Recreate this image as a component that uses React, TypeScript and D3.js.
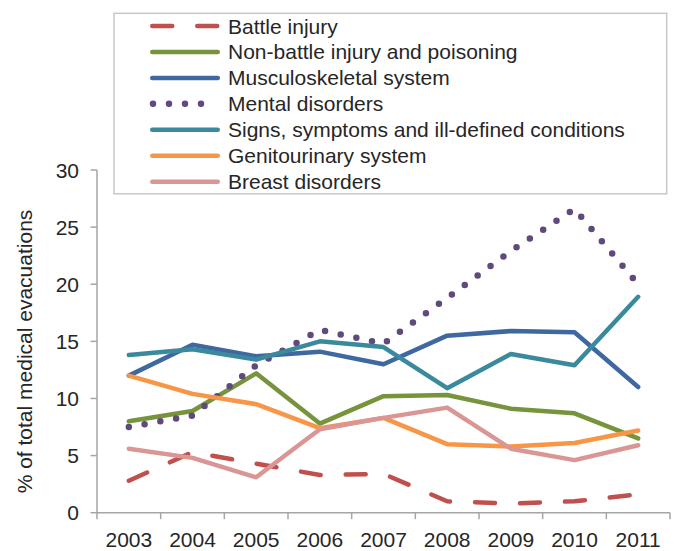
import React from "react";
import * as d3 from "d3";

const years = ["2003", "2004", "2005", "2006", "2007", "2008", "2009", "2010", "2011"];
const yTicks = [0, 5, 10, 15, 20, 25, 30];

const battleInjury = [2.8, 5.3, 4.3, 3.3, 3.4, 1.0, 0.8, 1.0, 1.6];
const nonBattle = [8.0, 8.9, 12.2, 7.8, 10.2, 10.3, 9.1, 8.7, 6.5];
const musculoskeletal = [12.0, 14.7, 13.7, 14.1, 13.0, 15.5, 15.9, 15.8, 11.0];
const mental = [7.5, 8.5, 12.9, 16.0, 14.8, 18.8, 22.9, 26.6, 20.0];
const signs = [13.8, 14.3, 13.4, 15.0, 14.5, 10.9, 13.9, 12.9, 18.9];
const genitourinary = [12.0, 10.4, 9.5, 7.4, 8.3, 6.0, 5.8, 6.1, 7.2];
const breast = [5.6, 4.8, 3.1, 7.3, 8.3, 9.2, 5.6, 4.6, 5.9];

const seriesNames = [
  "Battle injury",
  "Non-battle injury and poisoning",
  "Musculoskeletal system",
  "Mental disorders",
  "Signs, symptoms and ill-defined conditions",
  "Genitourinary system",
  "Breast disorders",
];
const seriesValues = [battleInjury, nonBattle, musculoskeletal, mental, signs, genitourinary, breast];
const seriesColors = ["#C0504D", "#77933C", "#3F67A0", "#604A7B", "#3A899C", "#F79646", "#D99694"];

const FONT = "'Liberation Sans', Arial, sans-serif";

export default function App() {
  const width = 680;
  const height = 551;
  const left = 97;
  const right = 670;
  const top = 170;
  const bottom = 512.7;

  const x = d3.scaleBand<string>().domain(years).range([left, right]).padding(0);
  const y = d3.scaleLinear().domain([0, 30]).range([bottom, top]);
  const cx = (yr: string) => (x(yr) as number) + x.bandwidth() / 2;

  const line = d3
    .line<number>()
    .x((_, i) => cx(years[i]))
    .y((v) => y(v));

  const styleFor = (i: number) => {
    if (i === 0) return { strokeWidth: 4.5, dash: "20,25", cap: "round" as const };
    if (i === 3) return { strokeWidth: 6.5, dash: "0,16", cap: "round" as const };
    return { strokeWidth: 4.5, dash: undefined, cap: "round" as const };
  };

  const boundaries = years.map((yr) => x(yr) as number).concat([right]);

  const legendX1 = 152.25;
  const legendX2 = 217.75;
  const legendTop = 26;
  const legendStep = 25.95;

  return (
    <svg
      width={width}
      height={height}
      style={{ position: "absolute", left: 0, top: 0, background: "#fff" }}
      fontFamily={FONT}
    >
      <rect x={0} y={0} width={width} height={height} fill="#fff" />
      {/* axes */}
      <line x1={left} x2={left} y1={top} y2={bottom} stroke="#A6A6A6" strokeWidth={1.5} />
      <line x1={left} x2={right} y1={bottom} y2={bottom} stroke="#A6A6A6" strokeWidth={1.5} />
      {yTicks.map((t) => (
        <g key={"yt" + t}>
          <line x1={left - 6.5} x2={left} y1={y(t)} y2={y(t)} stroke="#A6A6A6" strokeWidth={1.5} />
          <text
            x={79}
            y={y(t)}
            textAnchor="end"
            dominantBaseline="central"
            fontSize={21}
            fill="#262626"
          >
            {t}
          </text>
        </g>
      ))}
      {boundaries.map((b, i) => (
        <line key={"xt" + i} x1={b} x2={b} y1={bottom} y2={bottom + 6.5} stroke="#A6A6A6" strokeWidth={1.5} />
      ))}
      {years.map((yr) => (
        <text key={"xl" + yr} x={cx(yr)} y={546.7} textAnchor="middle" fontSize={21} fill="#262626">
          {yr}
        </text>
      ))}
      <text
        transform={`translate(32,351.5) rotate(-90)`}
        textAnchor="middle"
        fontSize={21}
        fill="#262626"
      >
        % of total medical evacuations
      </text>

      {/* series */}
      {seriesValues.map((vals, i) => {
        const s = styleFor(i);
        return (
          <path
            key={"s" + i}
            d={line(vals) as string}
            fill="none"
            stroke={seriesColors[i]}
            strokeWidth={s.strokeWidth}
            strokeDasharray={s.dash}
            strokeLinecap={s.cap}
            strokeLinejoin="round"
          />
        );
      })}

      {/* legend */}
      <rect x={114} y={13.3} width={552.7} height={180.5} fill="#fff" stroke="#C8C8C8" strokeWidth={1.5} />
      {seriesNames.map((name, i) => {
        const s = styleFor(i);
        const ly = legendTop + i * legendStep;
        const x1 = i === 3 ? 153 : legendX1;
        const x2 = i === 3 ? 217 : legendX2;
        return (
          <g key={"lg" + i}>
            <line
              x1={x1}
              x2={x2}
              y1={ly}
              y2={ly}
              stroke={seriesColors[i]}
              strokeWidth={s.strokeWidth}
              strokeDasharray={s.dash}
              strokeLinecap="round"
            />
            <text x={228} y={ly} dominantBaseline="central" fontSize={21} fill="#262626">
              {name}
            </text>
          </g>
        );
      })}
    </svg>
  );
}
